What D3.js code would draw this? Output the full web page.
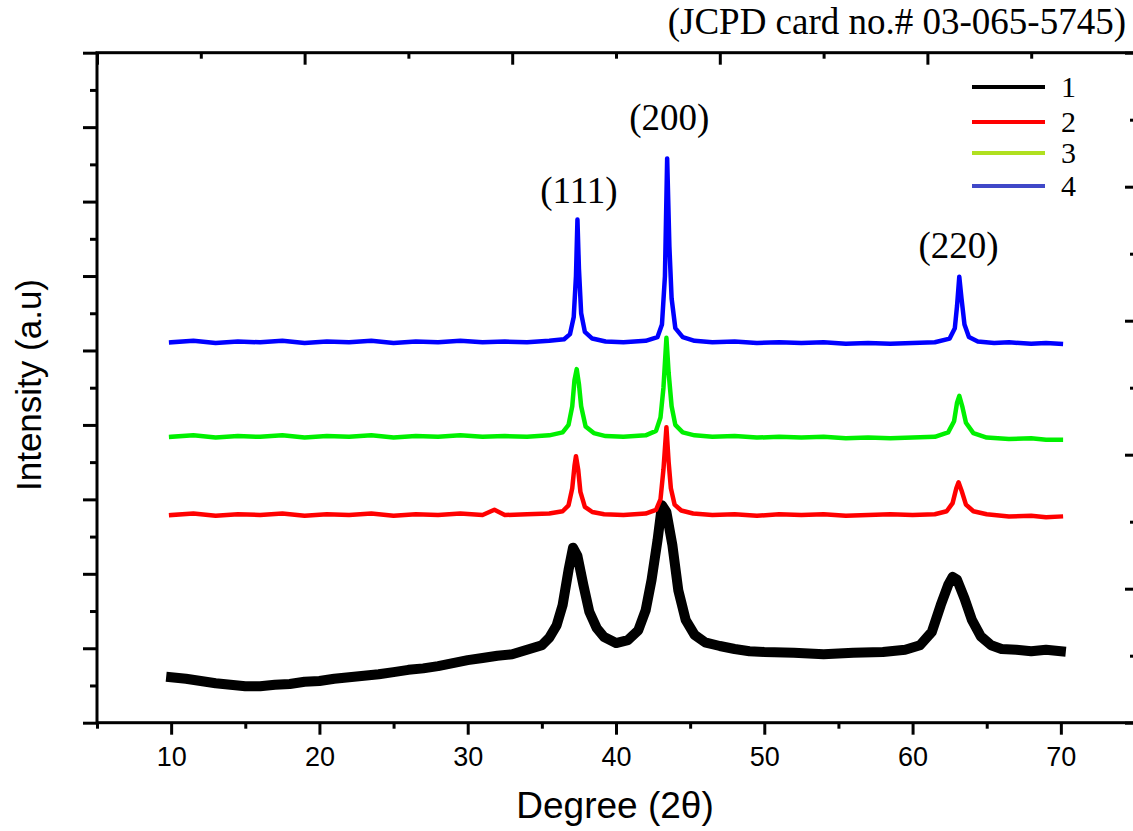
<!DOCTYPE html>
<html>
<head>
<meta charset="utf-8">
<script src="https://cdn.jsdelivr.net/npm/d3@7"></script>
<style>
  body { margin: 0; background: #ffffff; }
</style>
</head>
<body>
<div id="chart"></div>
<script>
// plot frame (pixels)
var margin = {top: 52.7, right: 1135, bottom: 722.7, left: 97};
var W = 1133, H = 831;

// --- DATA --- //
// [2theta, intensity a.u.]
var series1 = [[10,61],[11,59],[12,56],[13,53],[14,51],[15,49],[16,49],[17,51],[18,52],[19,55],
  [20,56],[21,59],[22,61],[23,63],[24,65],[25,68],[26,71],[27,73],[28,76],[29,80],[30,84],
  [31,87],[32,90],[33,92],[34,98],[35,104],[35.5,114],[36,131],[36.4,158],[36.8,205],[37.1,235],
  [37.4,224],[37.8,185],[38.2,149],[38.7,127],[39.2,115],[40,107],[40.8,111],[41.5,124],[42,151],
  [42.4,192],[42.8,245],[43.1,292],[43.4,283],[43.8,239],[44.2,178],[44.7,138],[45.3,118],[46,108],
  [47,103],[48,99],[49,96],[50,95],[52,94],[54,92],[56,94],[58,95],[59.5,98],[60.5,104],[61.3,122],
  [61.9,158],[62.4,185],[62.7,196],[63.0,192],[63.5,167],[64,138],[64.6,116],[65.3,104],[66,99],
  [67,98],[68,96],[69,98],[70,96]];
var series2 = [[10,279],[11.5,281],[13,278],[14.5,280],[16,279],[17.5,281],[19,278],[20.5,280],
  [22,279],[23.5,281],[25,278],[26.5,280],[28,279],[29.5,281],[31,279],[31.8,286],[32.5,279],[34,280],
  [35.5,281],[36.4,284],[36.8,292],[37.05,315],[37.2,345],[37.3,358],[37.45,340],[37.6,310],[37.9,290],
  [38.4,283],[39.2,280],[40.5,279],[42,281],[42.7,286],[43.0,300],[43.2,340],[43.4,397],[43.55,350],
  [43.7,315],[43.95,293],[44.4,285],[45.2,281],[46.5,279],[48,280],[49.5,278],[51,280],[52.5,279],
  [54,280],[55.5,278],[57,279],[58.5,280],[60,279],[61.5,280],[62.3,284],[62.7,295],[62.95,315],
  [63.1,323],[63.3,312],[63.6,293],[64.1,284],[65,280],[66.5,277],[68,278],[69,276],[70,277]];
var series3 = [[10,384],[11.5,386],[13,383],[14.5,385],[16,384],[17.5,386],[19,383],[20.5,385],
  [22,384],[23.5,386],[25,383],[26.5,385],[28,384],[29.5,386],[31,384],[32.5,385],[34,384],[35.5,386],
  [36.4,390],[36.8,400],[37.05,425],[37.2,460],[37.35,475],[37.5,455],[37.65,425],[37.95,398],[38.5,389],
  [39.3,385],[40.5,384],[42,386],[42.7,392],[43.0,410],[43.2,450],[43.4,517],[43.55,470],[43.75,425],
  [44.0,400],[44.5,390],[45.3,386],[46.5,384],[48,385],[49.5,383],[51,384],[52.5,383],[54,384],
  [55.5,382],[57,383],[58.5,382],[60,383],[61.5,384],[62.4,390],[62.8,405],[63.0,430],[63.15,439],
  [63.35,425],[63.6,403],[64.1,389],[65,383],[66.5,381],[68,382],[69,380],[70,380]];
var series4 = [[10,511],[11.5,513],[13,510],[14.5,512],[16,511],[17.5,513],[19,510],[20.5,512],
  [22,511],[23.5,513],[25,510],[26.5,512],[28,511],[29.5,513],[31,511],[32.5,512],[34,511],[35.5,513],
  [36.5,515],[36.9,522],[37.15,545],[37.3,600],[37.4,676],[37.5,610],[37.65,550],[37.9,525],[38.4,516],
  [39.3,512],[40.5,511],[42,513],[42.8,518],[43.1,535],[43.3,600],[43.45,758],[43.6,640],[43.75,570],
  [44.0,530],[44.5,518],[45.3,513],[46.5,511],[48,512],[49.5,510],[51,511],[52.5,510],[54,511],
  [55.5,509],[57,510],[58.5,509],[60,510],[61.5,511],[62.5,516],[62.85,530],[63.0,560],[63.15,599],
  [63.3,570],[63.5,535],[63.8,518],[64.4,512],[65.5,510],[66.5,511],[68,509],[69,510],[70,509]];

var seriesNames = ["1", "2", "3", "4"];
var seriesColors = ["#000000", "#ff0000", "#00f000", "#0000ff"];
var legendColors = ["#000000", "#ff0000", "#b0e020", "#4048c8"];
var peakLabels = ["(111)", "(200)", "(220)"];
var peakPos = [[37.5, 698], [43.6, 796], [63.1, 624]];
var xTicks = [10, 20, 30, 40, 50, 60, 70];

// --- SCALES --- //
var xScale = d3.scaleLinear().domain([5, 75]).range([margin.left, margin.right]);
var yScale = d3.scaleLinear().domain([0, 900]).range([margin.bottom, margin.top]);
var topScale = d3.scaleLinear().domain([0, 10]).range([margin.left, margin.right]);
var rightScale = d3.scaleLinear().domain([0, 10]).range([margin.bottom, margin.top]);

var svg = d3.select("#chart")
    .append("svg")
    .attr("width", W)
    .attr("height", H);

// --- AXES --- //
function styleAxis(g){
    g.select(".domain").remove();
    g.selectAll(".tick line").attr("stroke", "black").attr("stroke-width", 3);
    g.selectAll("text")
        .attr("font-family", "Liberation Sans, Arial, sans-serif")
        .attr("font-size", "27px")
        .attr("fill", "black");
}

// bottom
svg.append("g")
    .attr("transform", "translate(0," + margin.bottom + ")")
    .call(d3.axisBottom(xScale).tickValues(xTicks).tickSize(12).tickPadding(12).tickFormat(d3.format("d")))
    .call(styleAxis);
svg.append("g")
    .attr("transform", "translate(0," + margin.bottom + ")")
    .call(d3.axisBottom(xScale).tickValues(d3.range(5, 76, 10)).tickSize(6).tickFormat(""))
    .call(styleAxis);

// left (outward)
svg.append("g")
    .attr("transform", "translate(" + margin.left + ",0)")
    .call(d3.axisLeft(yScale).tickValues(d3.range(0, 901, 100)).tickSize(14).tickFormat(""))
    .call(styleAxis);
svg.append("g")
    .attr("transform", "translate(" + margin.left + ",0)")
    .call(d3.axisLeft(yScale).tickValues(d3.range(50, 900, 100)).tickSize(7).tickFormat(""))
    .call(styleAxis);

// top (inward)
svg.append("g")
    .attr("transform", "translate(0," + margin.top + ")")
    .call(d3.axisBottom(topScale).tickValues([0, 2, 4, 6, 8, 10]).tickSize(12).tickFormat(""))
    .call(styleAxis);
svg.append("g")
    .attr("transform", "translate(0," + margin.top + ")")
    .call(d3.axisBottom(topScale).tickValues([1, 3, 5, 7, 9]).tickSize(6).tickFormat(""))
    .call(styleAxis);

// right (inward)
svg.append("g")
    .attr("transform", "translate(" + margin.right + ",0)")
    .call(d3.axisLeft(rightScale).tickValues([0, 2, 4, 6, 8, 10]).tickSize(10).tickFormat(""))
    .call(styleAxis);
svg.append("g")
    .attr("transform", "translate(" + margin.right + ",0)")
    .call(d3.axisLeft(rightScale).tickValues([1, 3, 5, 7, 9]).tickSize(5).tickFormat(""))
    .call(styleAxis);

// frame
svg.append("rect")
    .attr("x", margin.left)
    .attr("y", margin.top)
    .attr("width", margin.right - margin.left)
    .attr("height", margin.bottom - margin.top)
    .attr("fill", "none")
    .attr("stroke", "black")
    .attr("stroke-width", 3);

// --- LINES --- //
var line = d3.line()
    .x(function(d){ return xScale(d[0]); })
    .y(function(d){ return yScale(d[1]); });

var allSeries = [series1, series2, series3, series4];
var widths = [10, 4.5, 4.5, 4.5];
allSeries.forEach(function(s, i){
    svg.append("path")
        .datum(s)
        .attr("fill", "none")
        .attr("stroke", seriesColors[i])
        .attr("stroke-width", widths[i])
        .attr("stroke-linejoin", "round")
        .attr("stroke-linecap", "square")
        .attr("d", line);
});

// peak labels
svg.selectAll(".peak")
    .data(peakLabels)
    .enter()
    .append("text")
    .attr("class", "peak")
    .attr("x", function(d, i){ return xScale(peakPos[i][0]); })
    .attr("y", function(d, i){ return yScale(peakPos[i][1]); })
    .attr("text-anchor", "middle")
    .attr("font-family", "Liberation Serif, Times New Roman, serif")
    .attr("font-size", "37px")
    .attr("fill", "black")
    .text(function(d){ return d; });

// card note
svg.append("text")
    .attr("x", 1126)
    .attr("y", 34)
    .attr("text-anchor", "end")
    .attr("font-family", "Liberation Serif, Times New Roman, serif")
    .attr("font-size", "37px")
    .attr("fill", "black")
    .text("(JCPD card no.# 03-065-5745)");

// --- LEGEND --- //
var legendY = [87, 122, 153, 186];
var legend = svg.append("g").attr("id", "legend");
seriesNames.forEach(function(name, i){
    legend.append("line")
        .attr("x1", 972)
        .attr("x2", 1045)
        .attr("y1", legendY[i])
        .attr("y2", legendY[i])
        .attr("stroke", legendColors[i])
        .attr("stroke-width", 4);
    legend.append("text")
        .attr("x", 1061)
        .attr("y", legendY[i] + 10)
        .attr("font-family", "Liberation Serif, Times New Roman, serif")
        .attr("font-size", "30px")
        .attr("fill", "black")
        .text(name);
});

// axis titles
svg.append("text")
    .attr("x", 615)
    .attr("y", 818)
    .attr("text-anchor", "middle")
    .attr("font-family", "Liberation Sans, Arial, sans-serif")
    .attr("font-size", "37px")
    .attr("fill", "black")
    .text("Degree (2θ)");

svg.append("text")
    .attr("transform", "translate(41,385) rotate(-90)")
    .attr("text-anchor", "middle")
    .attr("font-family", "Liberation Sans, Arial, sans-serif")
    .attr("font-size", "35px")
    .attr("fill", "black")
    .text("Intensity (a.u)");
</script>
</body>
</html>
